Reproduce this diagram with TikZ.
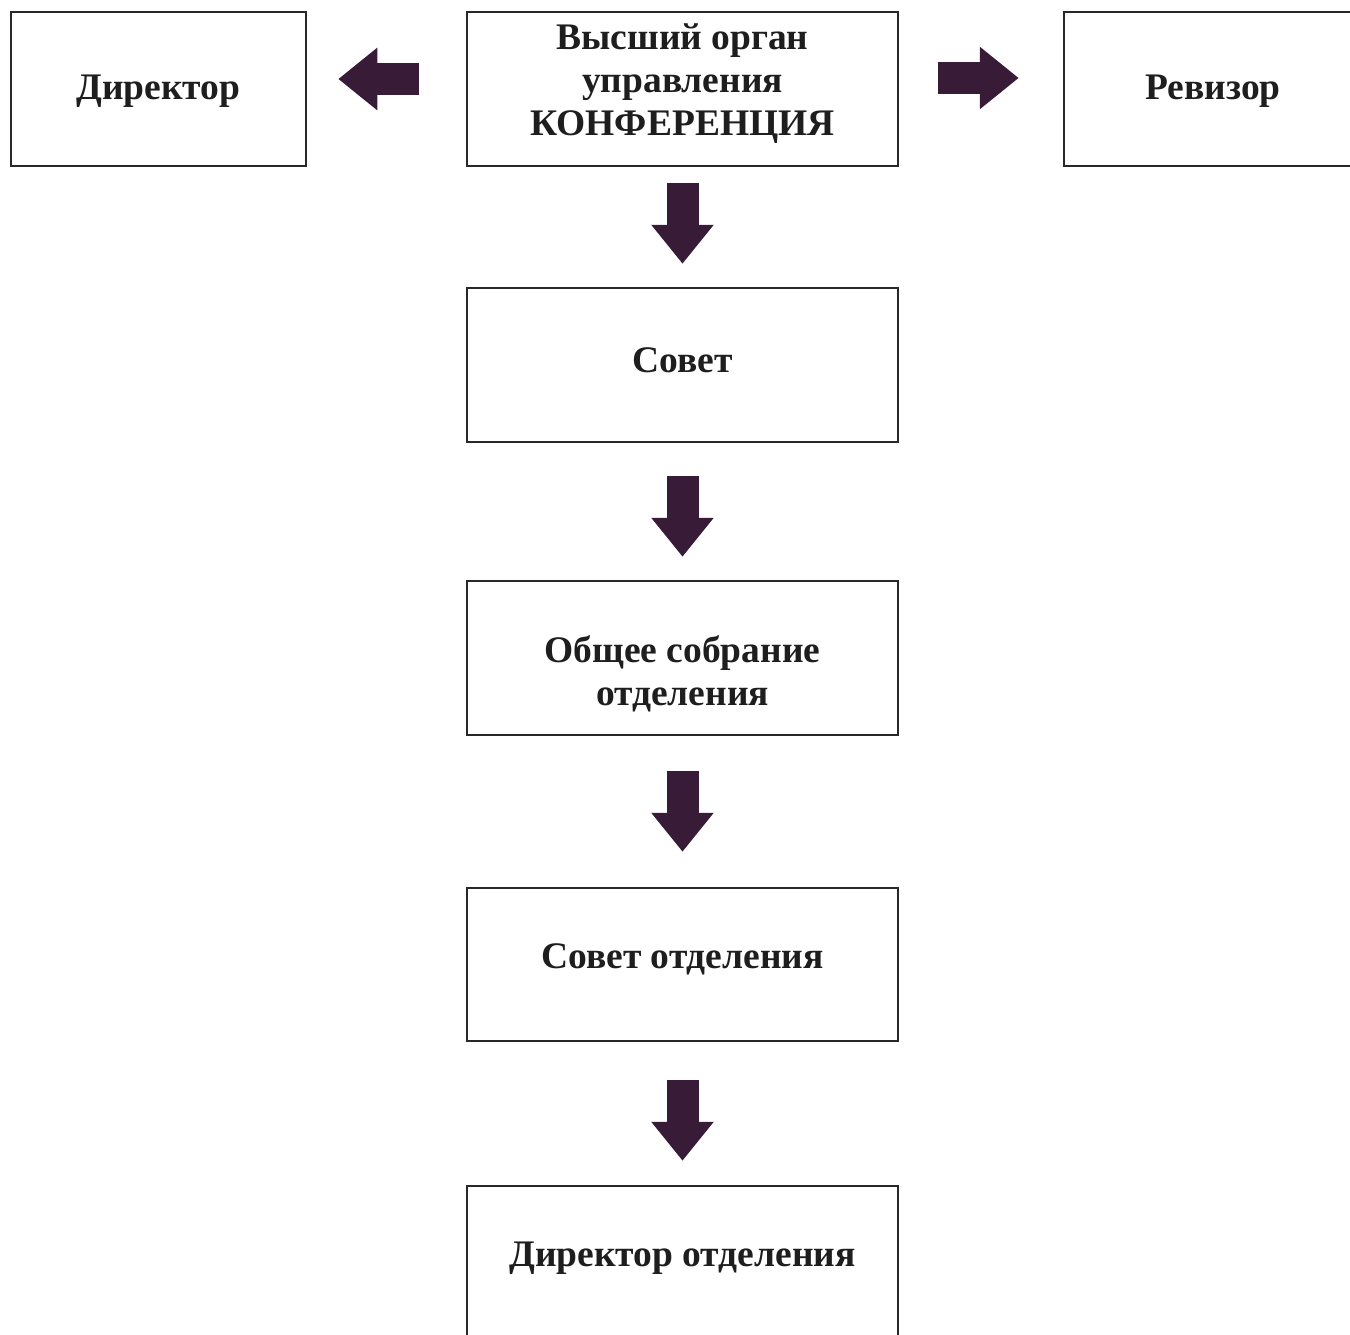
\documentclass[tikz,border=0pt]{standalone}
\usepackage{fontspec}
\setmainfont{Liberation Serif}
\usetikzlibrary{arrows.meta}
\definecolor{arrowcol}{RGB}{55,27,55}
\definecolor{boxcol}{RGB}{40,40,40}
\definecolor{txtcol}{RGB}{30,30,30}
\tikzset{
  box/.style={draw=boxcol, line width=2.5pt, rectangle, minimum height=154pt, inner sep=0pt},
  wbox/.style={box, minimum width=431pt},
  lbl/.style={text=txtcol, font=\fontsize{37.5}{43}\selectfont\bfseries, align=center, inner sep=0pt},
  bigarrow/.style={draw=arrowcol, line width=32pt, -{Triangle[width=60pt,length=39pt]}, arrowcol}
}
\begin{document}
\begin{tikzpicture}[x=1pt,y=-1pt]
\useasboundingbox (0,0) rectangle (1350,1335);
\clip (0,0) rectangle (1350,1335);
% boxes
\node[box, minimum width=295pt] (dir) at (158.5,89) {};
\node[wbox] (top) at (682.5,89) {};
\node[box, minimum width=298pt] (rev) at (1213,89) {};
\node[wbox] (sovet) at (682.5,365) {};
\node[wbox] (obsh) at (682.5,658) {};
\node[wbox, minimum height=153pt] (sovotd) at (682.5,964.5) {};
\node[wbox] (dirotd) at (682.5,1263) {};
% labels
\node[lbl] (tdir) at (158.5,91) {Директор};
\node[lbl] (ttop) at (682.5,84) {Высший орган\\управления\\КОНФЕРЕНЦИЯ};
\node[lbl] (trev) at (1213,91) {Ревизор};
\node[lbl] (tsovet) at (682.5,360) {Совет};
\node[lbl] (tobsh) at (682.5,674) {Общее собрание\\отделения};
\node[lbl] (tsovotd) at (682.5,959) {Совет отделения};
\node[lbl] (tdirotd) at (682.5,1258) {Директор отделения};
% arrows
\draw[bigarrow, shorten <=47pt, shorten >=31pt] ([yshift=10pt]top.west) -- ([yshift=10pt]dir.east);
\draw[bigarrow, shorten <=39pt, shorten >=44pt] ([yshift=11pt]top.east) -- ([yshift=11pt]rev.west);
\draw[bigarrow, shorten <=16pt, shorten >=23pt] (top.south) -- (sovet.north);
\draw[bigarrow, shorten <=33pt, shorten >=23pt] (sovet.south) -- (obsh.north);
\draw[bigarrow, shorten <=35pt, shorten >=35pt] (obsh.south) -- (sovotd.north);
\draw[bigarrow, shorten <=38pt, shorten >=24pt] (sovotd.south) -- (dirotd.north);
\end{tikzpicture}
\end{document}
